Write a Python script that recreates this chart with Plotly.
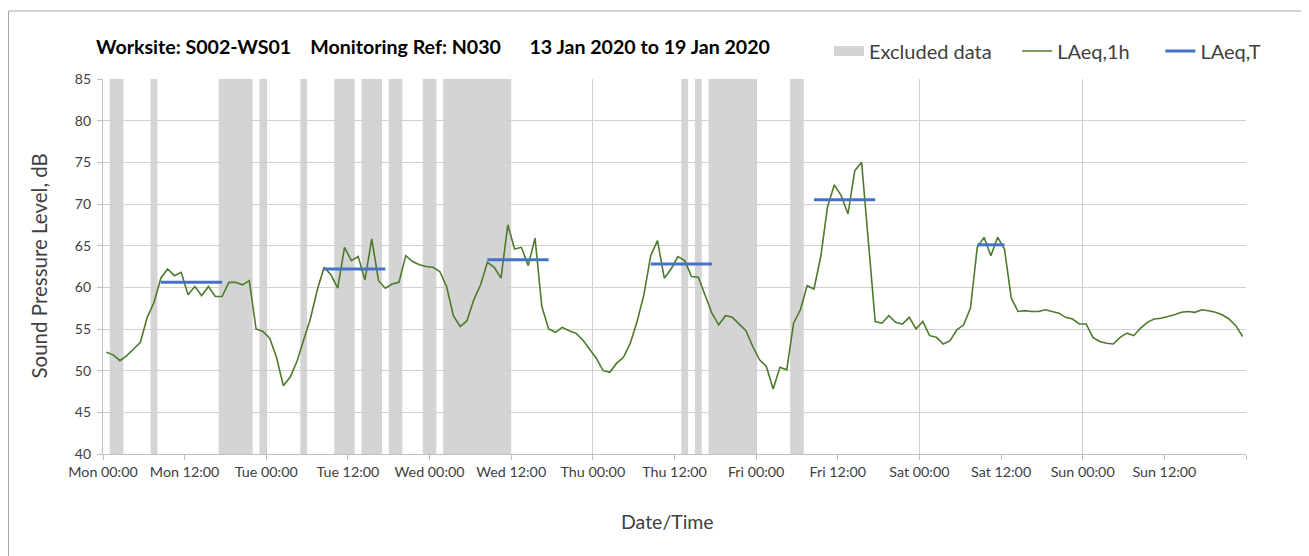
import pandas as pd
import plotly.graph_objects as go

# ---------------- data ----------------
period_start = "2020-01-13 00:00"
period_end = "2020-01-20 00:00"

# hourly LAeq,1h values (one per hour, plotted at mid-hour)
laeq_1h = [52.2, 51.9, 51.2, 51.8, 52.6, 53.4, 56.4, 58.2, 61.1, 62.2,
           61.4, 61.8, 59.1, 60.1, 59.0, 60.1, 58.9, 58.9, 60.6, 60.6,
           60.3, 60.8, 55.0, 54.7, 53.9, 51.6, 48.2, 49.2, 51.1, 53.7,
           56.3, 59.7, 62.4, 61.5, 59.9, 64.8, 63.2, 63.7, 60.9, 65.8,
           60.8, 59.9, 60.4, 60.6, 63.8, 63.1, 62.7, 62.5, 62.4, 61.9,
           60.1, 56.6, 55.3, 56.0, 58.5, 60.3, 63.0, 62.4, 61.1, 67.5,
           64.6, 64.8, 62.6, 65.9, 57.7, 55.0, 54.6, 55.2, 54.8, 54.5,
           53.7, 52.6, 51.5, 50.0, 49.8, 50.9, 51.6, 53.3, 55.9, 59.1,
           63.8, 65.6, 61.1, 62.2, 63.7, 63.2, 61.3, 61.2, 59.1, 56.9,
           55.5, 56.6, 56.4, 55.6, 54.8, 52.9, 51.3, 50.5, 47.8, 50.4,
           50.1, 55.7, 57.3, 60.2, 59.8, 63.7, 69.7, 72.3, 71.0, 68.8,
           74.0, 75.0, 65.0, 55.9, 55.7, 56.6, 55.8, 55.6, 56.4, 55.0,
           55.9, 54.2, 54.0, 53.2, 53.6, 54.9, 55.5, 57.5, 64.8, 66.0,
           63.8, 66.0, 64.6, 58.7, 57.1, 57.2, 57.1, 57.1, 57.3, 57.1,
           56.9, 56.4, 56.2, 55.6, 55.6, 54.0, 53.5, 53.3, 53.2, 54.0,
           54.5, 54.2, 55.1, 55.8, 56.2, 56.3, 56.5, 56.7, 57.0, 57.1,
           57.0, 57.3, 57.2, 57.0, 56.7, 56.2, 55.4, 54.1]

# LAeq,T daytime periods (start, end, level)
laeq_t_start = ["2020-01-13 08:00", "2020-01-14 08:00", "2020-01-15 08:00",
                "2020-01-16 08:00", "2020-01-17 08:00", "2020-01-18 08:00"]
laeq_t_end = ["2020-01-13 18:00", "2020-01-14 18:00", "2020-01-15 18:00",
              "2020-01-16 18:00", "2020-01-17 18:00", "2020-01-18 13:00"]
laeq_t_level = [60.6, 62.2, 63.3, 62.8, 70.5, 65.1]

# excluded data periods
excl_start = ["2020-01-13 01:00", "2020-01-13 07:00", "2020-01-13 17:00",
              "2020-01-13 23:00", "2020-01-14 05:00", "2020-01-14 10:00",
              "2020-01-14 14:00", "2020-01-14 18:00", "2020-01-14 23:00",
              "2020-01-15 02:00", "2020-01-16 13:00", "2020-01-16 15:00",
              "2020-01-16 17:00", "2020-01-17 05:00"]
excl_end = ["2020-01-13 03:00", "2020-01-13 08:00", "2020-01-13 22:00",
            "2020-01-14 00:00", "2020-01-14 06:00", "2020-01-14 13:00",
            "2020-01-14 17:00", "2020-01-14 20:00", "2020-01-15 01:00",
            "2020-01-15 12:00", "2020-01-16 14:00", "2020-01-16 16:00",
            "2020-01-17 00:00", "2020-01-17 07:00"]

tick_labels = ["Mon 00:00", "Mon 12:00", "Tue 00:00", "Tue 12:00",
               "Wed 00:00", "Wed 12:00", "Thu 00:00", "Thu 12:00",
               "Fri 00:00", "Fri 12:00", "Sat 00:00", "Sat 12:00",
               "Sun 00:00", "Sun 12:00", ""]

title_text = ("Worksite: S002-WS01&nbsp;&nbsp;&nbsp;&nbsp;Monitoring Ref: N030"
              "&nbsp;&nbsp;&nbsp;&nbsp;&nbsp;&nbsp;13 Jan 2020 to 19 Jan 2020")

# ---------------- derived ----------------
t0 = pd.Timestamp(period_start)
times = [t0 + pd.Timedelta(minutes=30) + pd.Timedelta(hours=i) for i in range(len(laeq_1h))]
tick_vals = [t0 + pd.Timedelta(hours=12 * k) for k in range(len(tick_labels))]
day_vals = [t0 + pd.Timedelta(days=d) for d in range(1, 8)]

tx, ty = [], []
for s, e, lv in zip(laeq_t_start, laeq_t_end, laeq_t_level):
    hrs = pd.date_range(pd.Timestamp(s) + pd.Timedelta(minutes=30),
                        pd.Timestamp(e) - pd.Timedelta(minutes=30), freq="h")
    tx += list(hrs) + [None]
    ty += [lv] * len(hrs) + [None]

FONT = "Lato"
GRID = "#d0d0d0"
BAND = "#d4d4d4"

# figure is 8px inset by the page body margin
W, H = 1301, 548
L, R, T, B = 95, 63, 71, 102
PW, PH = W - L - R, H - T - B

fig = go.Figure()
fig.add_trace(go.Scatter(x=[None], y=[None], mode="lines",
                         name="Excluded data" + "&nbsp;" * 4,
                         line=dict(color=BAND, width=11)))
fig.add_trace(go.Scatter(x=times, y=laeq_1h, mode="lines",
                         name="LAeq,1h" + "&nbsp;" * 5,
                         line=dict(color="#4e7a2c", width=1.6)))
fig.add_trace(go.Scatter(x=tx, y=ty, mode="lines", name="LAeq,T",
                         line=dict(color="#4472c4", width=3)))
# helper trace for the daily grid axis
fig.add_trace(go.Scatter(x=[], y=[], xaxis="x2", showlegend=False,
                         hoverinfo="skip"))

shapes = []
for s, e in zip(excl_start, excl_end):
    shapes.append(dict(type="rect", xref="x", yref="y", x0=s, x1=e, y0=40, y1=85,
                       fillcolor=BAND, line=dict(width=0), layer="below"))
# outer chart frame (bottom edge lies beyond the picture)
shapes.append(dict(type="rect", xref="paper", yref="paper",
                   x0=(0.5 - L) / PW, x1=(W - 1 - L) / PW,
                   y0=(T + PH - 570) / PH, y1=(T + PH - 3) / PH,
                   line=dict(color="#a6a6a6", width=1), fillcolor="rgba(0,0,0,0)",
                   layer="above"))

rng = [period_start, period_end]
fig.update_layout(
    width=W, height=H,
    margin=dict(l=L, r=R, t=T, b=B),
    paper_bgcolor="white", plot_bgcolor="white",
    font=dict(family=FONT, color="#404040", size=14),
    showlegend=True,
    legend=dict(orientation="h", x=(821 - L) / PW, xanchor="left",
                y=(T + PH - 43) / PH, yanchor="middle",
                font=dict(size=20, color="#404040"), bgcolor="rgba(0,0,0,0)",
                traceorder="normal", itemwidth=30),
    title=dict(text="<b>" + title_text + "</b>", xref="container", x=88 / W,
               xanchor="left", yref="container", y=1 - 39 / H, yanchor="middle",
               font=dict(family=FONT, size=19.6, color="#000000")),
    xaxis=dict(type="date", range=rng, tickvals=tick_vals, ticktext=tick_labels,
               showgrid=False, zeroline=False, showline=True, linecolor="#bfbfbf",
               linewidth=1.3, ticks="outside", ticklen=5, tickcolor="#bfbfbf",
               tickfont=dict(size=14.3, color="#404040")),
    xaxis2=dict(type="date", range=rng, overlaying="x", tickvals=day_vals,
                showgrid=True, gridcolor=GRID, gridwidth=1.3, showticklabels=False,
                ticks="", showline=False, zeroline=False),
    yaxis=dict(range=[40, 85], dtick=5, tick0=40, showgrid=True, gridcolor=GRID,
               gridwidth=1.3, zeroline=False, showline=True, linecolor="#bfbfbf",
               linewidth=1.3, ticks="outside", ticklen=5, tickcolor="#bfbfbf",
               ticklabelstandoff=3, tickfont=dict(size=14, color="#404040")),
    shapes=shapes,
    annotations=[
        dict(text="Sound Pressure Level, dB", xref="paper", yref="paper",
             x=(30 - L) / PW, y=0.5, textangle=-90, showarrow=False,
             xanchor="center", yanchor="middle",
             font=dict(family=FONT, size=20.5, color="#404040")),
        dict(text="Date/Time", xref="paper", yref="paper",
             x=(659 - L) / PW, y=(T + PH - 513) / PH, showarrow=False,
             xanchor="center", yanchor="middle",
             font=dict(family=FONT, size=19.5, color="#404040")),
    ],
)

fig.write_html("out.html")
